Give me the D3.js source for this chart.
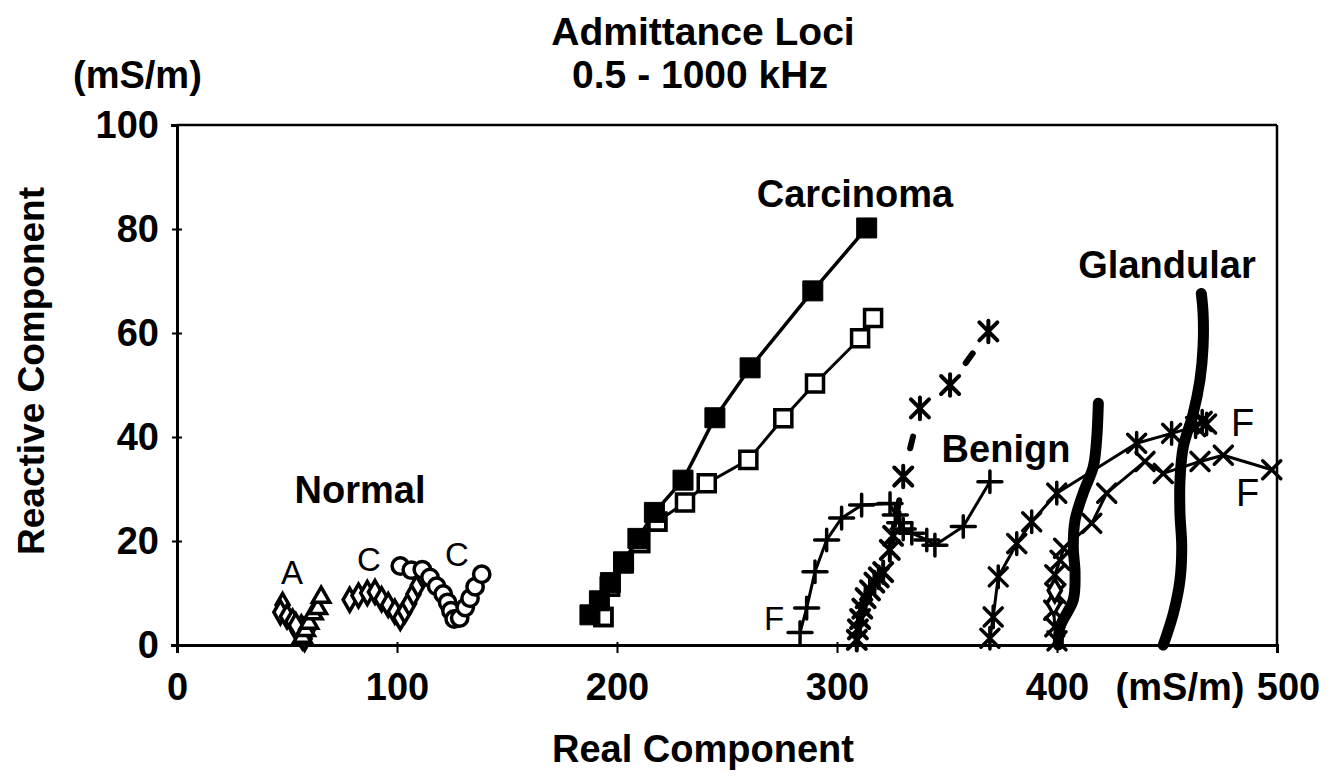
<!DOCTYPE html>
<html><head><meta charset="utf-8">
<script src="https://cdn.jsdelivr.net/npm/d3@7"></script>
<style>body{margin:0;background:#fff} svg{display:block}</style>
</head><body><svg id="c" width="1337" height="779"></svg>
<script>
// ---------- data ----------
const xTicks = [0, 100, 200, 300, 400, 500];
const yTicks = [0, 20, 40, 60, 80, 100];

// Normal tissue
const normalADiamond = [[48,7.7],[47,6.3],[50,5.5],[52.5,4.5],[54.5,3.2],[56,2.2],[57,1.5],[58,1.2],[55,2.6],[56.5,3.4],[58.5,2.2],[59.5,3],[57.5,2.8],[54,3.8]];
const normalATriangle = [[57,1.5],[58.5,2.8],[60,4.2],[62,6],[64,7],[65.5,9.2]];
const normalCDiamond = [[78.5,8.7],[82.5,9.5],[86.5,10],[90,10.2],[93,8.8],[96,7.7],[99,6.4],[101.5,5.2],[103.5,6.5],[105.5,8],[107.5,9.8],[109.5,11.5],[111.5,13.5]];
const normalCCircle = [[101.5,15.2],[106.5,14.4],[111.5,14.5],[115,13],[118,11.3],[121,9.8],[123,8.2],[124.5,6.6],[126,5],[128.5,5.2],[131,7.2],[133.2,9],[135.5,11.2],[138.5,13.6]];

// Carcinoma
const carcFilled = [[187.7,5.8],[192,8.5],[197,12],[203,16],[209.5,20.5],[217,25.5],[230,31.7],[244.5,43.7],[260.5,53.3],[289,68.1],[313.5,80.2]];
const carcOpen = [[193.8,5.4],[196.8,11.2],[202.9,15.7],[210.5,19.6],[218.3,23.7],[230.9,27.4],[240.8,31.1],[259.7,35.6],[275.6,43.6],[290,50.3],[310.5,59],[316.4,62.9]];

// Benign
const benignPlus = [[283.2,2.4],[286.2,7.1],[290,14.1],[295.3,20.2],[302.1,24.4],[311.2,26.9],[324.1,27.2],[326.5,25],[328.5,23.5],[330.1,22.3],[334,21.5],[340.8,20.2],[344.5,19.2],[357.4,22.8],[369.5,31.4]];
const benignStar = [[309,1],[309.5,3],[310.5,5],[311.5,7],[313,9],[315,10.5],[317,12],[319,13],[321,14],[324,18.3],[325.5,21],[330.1,32.4],[337.7,45.5],[351.4,50],[368.8,60.3]];

// Glandular / fatty loci
const glandStar = [[369.5,1.3],[371,5.4],[373.3,13.1],[381.7,19.5],[388.5,23.7],[399.9,29.2],[436.2,38.8],[452.1,40.7],[463,42],[466,43],[468,42.5]];
const glandCross = [[400,0.8],[399,3.5],[398.5,6.7],[399.5,9.9],[399,13.5],[401.4,16.3],[403,18.6],[415.8,23.4],[422.6,29.2],[440,35.3],[448.3,33],[465,35.3],[475.6,36.5],[497.6,33.7]];
const glandDiamond = [[398.5,8],[399,10.5]];
const glandThickA = [[400.6,0],[401.4,3.5],[407.4,8.7],[408.2,13.8],[407.4,18.9],[408.2,24],[411.9,29.2],[416.5,34.3],[418,39.4],[418.8,46.5]];
const glandThickB = [[448.3,0],[452.9,6.1],[455.9,12.5],[456.7,18.9],[455.9,25.3],[455.9,31.7],[457.4,38.1],[461.9,44.5],[465,51],[466.4,57.4],[466.4,63.8],[465.6,67.6]];

// ---------- drawing ----------
const svg = d3.select('#c');
const FONT = '"Liberation Sans", Arial, sans-serif';
const x = d3.scaleLinear().domain([0, 500]).range([177, 1277]);
const y = d3.scaleLinear().domain([0, 100]).range([645, 125]);

// frame
svg.append('line').attr('x1', x(0)).attr('x2', x(500)).attr('y1', y(100)).attr('y2', y(100)).attr('stroke', '#000').attr('stroke-width', 2.5);
svg.append('line').attr('x1', x(500)).attr('x2', x(500)).attr('y1', y(100)).attr('y2', y(0)).attr('stroke', '#000').attr('stroke-width', 2.5);

// y axis
const gy = svg.append('g').attr('transform', `translate(${x(0)},0)`)
  .call(d3.axisLeft(y).tickValues(yTicks).tickSize(6).tickPadding(12));
gy.select('.domain').attr('stroke', '#000').attr('stroke-width', 3);
gy.selectAll('.tick line').attr('x1', 5).attr('x2', -5).attr('stroke-width', 2);
gy.selectAll('.tick text').attr('font-family', FONT).attr('font-weight', 'bold').attr('font-size', 38).attr('fill', '#000');
gy.selectAll('.tick').filter(d => d === 100).select('line').attr('x1', 0);

// x axis
const gx = svg.append('g').attr('transform', `translate(0,${y(0)})`)
  .call(d3.axisBottom(x).tickValues(xTicks).tickSize(8).tickPadding(20));
gx.select('.domain').attr('stroke', '#000').attr('stroke-width', 3);
gx.selectAll('.tick line').attr('y1', -3).attr('stroke-width', 2);
gx.selectAll('.tick text').attr('font-family', FONT).attr('font-weight', 'bold').attr('font-size', 38).attr('fill', '#000').attr('dy', '0.72em');
gx.selectAll('.tick').filter(d => d === 500).select('text').attr('dx', 11);
gx.selectAll('.tick').filter(d => d === 0 || d === 500).select('line').remove();

function txt(t, px, py, size, weight, anchor) {
  return svg.append('text').attr('x', px).attr('y', py).attr('font-family', FONT)
    .attr('font-size', size).attr('font-weight', weight).attr('text-anchor', anchor || 'middle').attr('fill', '#000').text(t);
}
// titles
txt('Admittance Loci', 703, 45, 39, 'bold');
txt('0.5 - 1000 kHz', 700, 88, 39, 'bold');
txt('(mS/m)', 73, 88, 38, 'bold', 'start');
txt('(mS/m)', 1180, 700, 38, 'bold');
txt('Real Component', 703, 762, 38, 'bold');
svg.append('text').attr('transform', 'translate(44,371) rotate(-90)').attr('font-family', FONT)
  .attr('font-size', 37).attr('font-weight', 'bold').attr('text-anchor', 'middle').text('Reactive Component');

// series helpers
const line = d3.line().x(d => x(d[0])).y(d => y(d[1]));
const curve = d3.line().x(d => x(d[0])).y(d => y(d[1])).curve(d3.curveCatmullRom);
function path(data, w, gen) {
  svg.append('path').datum(data).attr('d', gen || line).attr('fill', 'none').attr('stroke', '#000')
    .attr('stroke-width', w).attr('stroke-linejoin', 'round').attr('stroke-linecap', 'round');
}
function symbols(data, type, size, fill, sw) {
  svg.append('g').selectAll('path').data(data).join('path')
    .attr('transform', d => `translate(${x(d[0])},${y(d[1])})`)
    .attr('d', d3.symbol(type, size))
    .attr('fill', fill).attr('stroke', '#000').attr('stroke-width', sw);
}
const glyphs = {
  plus: s => `M${-s},0H${s}M0,${-s * 0.9}V${s * 0.9}`,
  cross: s => `M${-s},${-s}L${s},${s}M${-s},${s}L${s},${-s}`,
  star: s => `M${-s},${-s}L${s},${s}M${-s},${s}L${s},${-s}M0,${-s * 1.2}V${s * 1.2}`
};
function strokes(data, kind, s, sw) {
  svg.append('g').selectAll('path').data(data).join('path')
    .attr('transform', d => `translate(${x(d[0])},${y(d[1])})`)
    .attr('d', glyphs[kind](s)).attr('fill', 'none').attr('stroke', '#000')
    .attr('stroke-width', sw).attr('stroke-linecap', 'round');
}

// Normal
symbols(normalADiamond, d3.symbolDiamond, 150, '#fff', 3.5);
symbols(normalATriangle, d3.symbolTriangle, 130, '#fff', 3.5);
symbols(normalCDiamond, d3.symbolDiamond, 150, '#fff', 3.5);
symbols(normalCCircle, d3.symbolCircle, 210, '#fff', 3.5);

// Carcinoma
path(carcOpen, 3);
path(carcFilled, 3.5);
symbols(carcOpen, d3.symbolSquare, 290, '#fff', 3.5);
symbols(carcFilled, d3.symbolSquare, 400, '#000', 1);
symbols(carcOpen.slice(0, 5), d3.symbolSquare, 290, 'none', 3.5);

// Benign
path(benignPlus, 3);
strokes(benignPlus, 'plus', 12, 3.5);
// short dashes between the widely spaced asterisks
svg.append('g').selectAll('line').data(d3.pairs(benignStar).filter(p => Math.hypot(x(p[1][0]) - x(p[0][0]), y(p[1][1]) - y(p[0][1])) > 40)).join('line')
  .each(function (p) {
    const x0 = x(p[0][0]), y0 = y(p[0][1]), x1 = x(p[1][0]), y1 = y(p[1][1]);
    const mx = (x0 + x1) / 2, my = (y0 + y1) / 2, L = Math.hypot(x1 - x0, y1 - y0), ux = (x1 - x0) / L, uy = (y1 - y0) / L;
    d3.select(this).attr('x1', mx - ux * 6).attr('y1', my - uy * 6).attr('x2', mx + ux * 6).attr('y2', my + uy * 6);
  }).attr('stroke', '#000').attr('stroke-width', 6).attr('stroke-linecap', 'round');
strokes(benignStar, 'star', 9, 4);

// Glandular / fatty
path(glandStar, 3);
path(glandCross, 3);
strokes(glandStar, 'star', 9, 3.5);
strokes(glandCross, 'cross', 9, 3.5);
symbols(glandDiamond, d3.symbolDiamond, 150, '#fff', 3.5);
path(glandThickA, 11, curve);
path(glandThickB, 11, curve);

// annotations
txt('Normal', 360, 503, 38, 'bold');
txt('Carcinoma', 855, 207, 38, 'bold');
txt('Benign', 1006, 462, 38, 'bold');
txt('Glandular', 1167, 278, 38, 'bold');
txt('A', 292, 584, 33, 'normal');
txt('C', 369, 571, 33, 'normal');
txt('C', 457, 566, 33, 'normal');
txt('F', 774, 630, 33, 'normal');
txt('F', 1231, 436, 38, 'normal', 'start');
txt('F', 1236, 506, 38, 'normal', 'start');
</script></body></html>
